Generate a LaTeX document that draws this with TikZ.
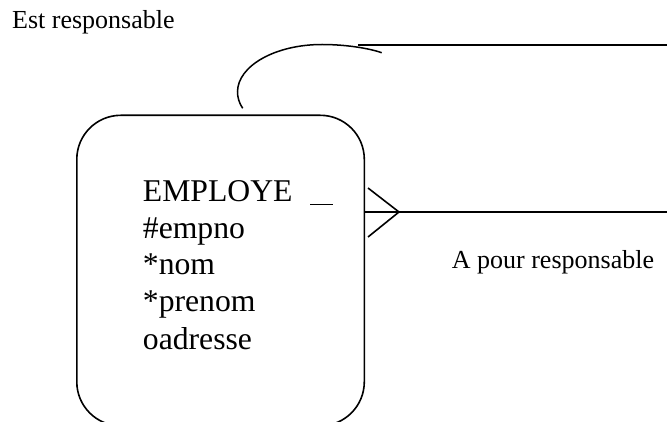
\documentclass[tikz,border=0pt]{standalone}
\usepackage{fontspec}
\setmainfont{Liberation Serif}
\begin{document}
\begin{tikzpicture}[x=1pt,y=-1pt,
  line/.style={line width=1.6pt, line cap=butt},
  entity/.style={draw, line width=1.6pt, rounded corners=44pt, inner sep=0pt,
    minimum width=287.5pt, minimum height=310.5pt, anchor=north west},
  attr/.style={anchor=base west, inner sep=0pt, font=\fontsize{31.7}{36.9}\selectfont},
  rel/.style={anchor=base west, inner sep=0pt, font=\fontsize{26}{30}\selectfont}]
  \useasboundingbox (0,0) rectangle (667,422);
  \clip (0,0) rectangle (667,422);

  % entity box (its bottom edge runs just past the page)
  \node[entity] (employe) at (76,114.5) {};

  % entity name and attributes
  \node[attr] (title)  at (142.7,201.7) {EMPLOYE};
  \node[attr] (empno)  at (142.7,238.3) {\#empno};
  \node[attr] (nom)    at (142.7,274.7) {*nom};
  \node[attr] (prenom) at (142.7,312.0) {*prenom};
  \node[attr] (adr)    at (142.7,349.3) {oadresse};
  \coordinate (ulA) at (310,204.7);
  \coordinate (ulB) at (333,204.7);
  \draw[line width=1.5pt] (ulA) -- (ulB);

  % relationship labels
  \node[rel] (estresp)  at (12,29)     {Est responsable};
  \node[rel] (pourresp) at (451.7,269) {A pour responsable};

  % upper branch of the recursive relationship
  \coordinate (arcStart) at (242.7,108.3);
  \coordinate (arcEnd)   at (381.7,52.7);
  \coordinate (topL) at (358,45);
  \coordinate (topR) at (667,45);
  \draw[line width=1.5pt]
    (arcStart) .. controls (239,103) and (237.5,97) .. (237.5,92)
               .. controls (237.5,65.8) and (275.4,44.5) .. (322,44.5)
               .. controls (345,44.5) and (368,48) .. (arcEnd);
  \draw[line] (topL) -- (topR);

  % lower branch with crow's foot at the entity
  \coordinate (midL)  at (employe.north east |- 0,212);
  \coordinate (midR)  at (667,212);
  \coordinate (apex)  at (399,212);
  \coordinate (prongU) at (368,188);
  \coordinate (prongD) at (368,237);
  \draw[line] (midL) -- (midR);
  \draw[line] (prongU) -- (apex) -- (prongD);
\end{tikzpicture}
\end{document}
